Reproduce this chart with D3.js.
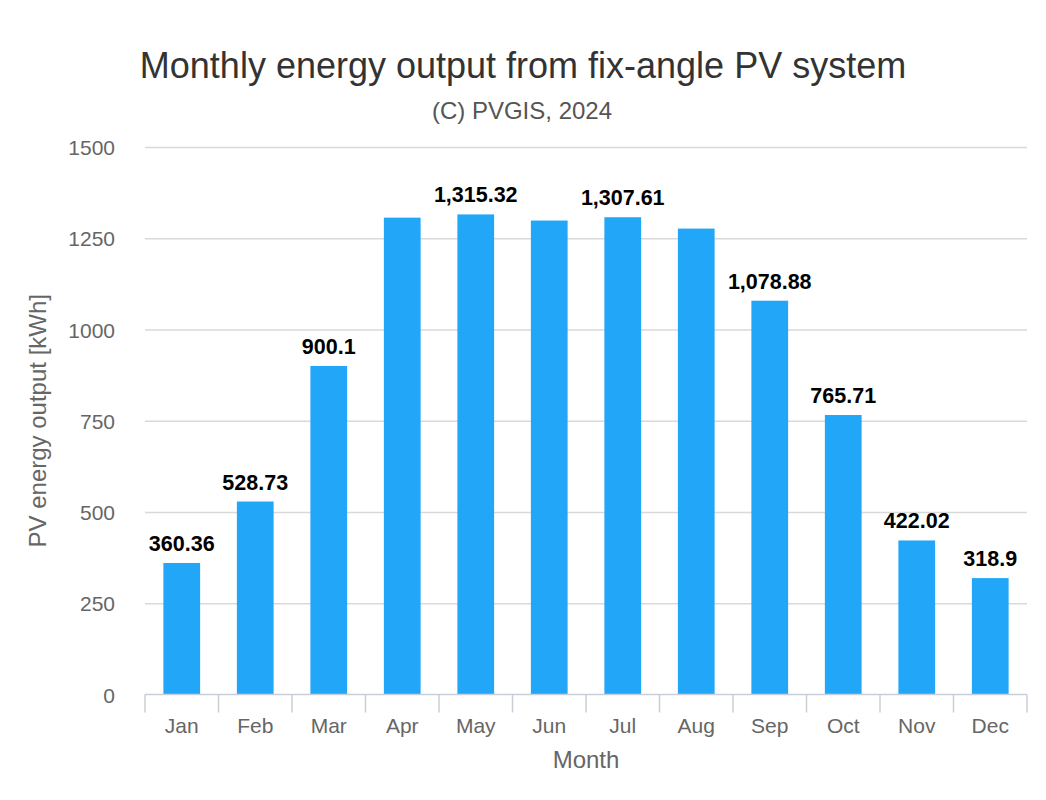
<!DOCTYPE html>
<html>
<head>
<meta charset="utf-8">
<script src="https://cdn.jsdelivr.net/npm/d3@7"></script>
<style>
  html, body { margin: 0; padding: 0; background: #fff; }
  svg { display: block; font-family: "Liberation Sans", Arial, sans-serif; }
</style>
</head>
<body>
<svg id="chart" width="1046" height="800"></svg>
<script>
const months = ["Jan","Feb","Mar","Apr","May","Jun","Jul","Aug","Sep","Oct","Nov","Dec"];
const energy = [360.36, 528.73, 900.1, 1306.5, 1315.32, 1298.5, 1307.61, 1276.5, 1078.88, 765.71, 422.02, 318.9];
const yTicks = [0, 250, 500, 750, 1000, 1250, 1500];
const titleText = "Monthly energy output from fix-angle PV system";
const subtitleText = "(C) PVGIS, 2024";
const xTitle = "Month";
const yTitle = "PV energy output [kWh]";

(function () {
const svg = d3.select("#chart");
const pL = 145, pR = 1027, pT = 147, pB = 694.5;

const x = d3.scaleBand().domain(months).range([pL, pR]).paddingInner(0.5).paddingOuter(0.25);
const y = d3.scaleLinear().domain([0, 1500]).range([pB, pT]);

// title
svg.append("text").attr("x", 523).attr("y", 78).attr("text-anchor", "middle")
  .attr("fill", "#333333").attr("font-size", 36).text(titleText);
svg.append("text").attr("x", 522).attr("y", 119).attr("text-anchor", "middle")
  .attr("fill", "#555555").attr("font-size", 24).text(subtitleText);

// grid
const yAxis = d3.axisLeft(y).tickValues(yTicks).tickSize(-(pR - pL)).tickPadding(30).tickFormat(d3.format("d"));
const gy = svg.append("g").attr("transform", `translate(${pL},0)`).call(yAxis);
gy.select(".domain").remove();
gy.selectAll(".tick line").attr("stroke", "#d9d9d9").attr("stroke-width", 1.5);
gy.selectAll(".tick text").attr("fill", "#666666").attr("font-size", 21)
  .attr("font-family", "Liberation Sans, Arial, sans-serif").attr("dy", "0.36em");
gy.selectAll(".tick").filter(d => d === 0).select("line").remove();

// bars
svg.append("g").selectAll("rect").data(energy).join("rect")
  .attr("x", (d, i) => x(months[i]))
  .attr("width", x.bandwidth())
  .attr("y", d => y(d))
  .attr("height", d => y(0) - y(d))
  .attr("fill", "#22a7f8");

// x axis
const step = x.step();
const gx = svg.append("g").attr("transform", `translate(0,${pB})`);
gx.append("line").attr("x1", pL).attr("x2", pR).attr("y1", 0).attr("y2", 0)
  .attr("stroke", "#c8ced8").attr("stroke-width", 1.5);
const bounds = months.map((m, i) => pL + i * step).concat([pR]);
gx.selectAll("line.tk").data(bounds).join("line").attr("class", "tk")
  .attr("x1", d => d).attr("x2", d => d).attr("y1", 0).attr("y2", 18)
  .attr("stroke", "#c8ced8").attr("stroke-width", 1.5);
gx.selectAll("text").data(months).join("text")
  .attr("x", d => x(d) + x.bandwidth() / 2).attr("y", 38).attr("text-anchor", "middle")
  .attr("fill", "#666666").attr("font-size", 21).text(d => d);

// axis titles
svg.append("text").attr("x", (pL + pR) / 2).attr("y", 768).attr("text-anchor", "middle")
  .attr("fill", "#666666").attr("font-size", 24).text(xTitle);
svg.append("text").attr("transform", `translate(46,${(pT + pB) / 2}) rotate(-90)`)
  .attr("text-anchor", "middle").attr("fill", "#666666").attr("font-size", 24).text(yTitle);

// data labels with overlap hiding (higher values win)
const fmt = d3.format(",");
const labels = svg.append("g").selectAll("text").data(energy).join("text")
  .attr("x", (d, i) => x(months[i]) + x.bandwidth() / 2)
  .attr("y", d => y(d) - 12)
  .attr("text-anchor", "middle").attr("font-weight", "bold").attr("font-size", 21.5)
  .attr("fill", "#000000").text(d => fmt(d));
const boxes = [];
labels.nodes().forEach((n, i) => { const b = n.getBBox(); boxes.push({i, v: energy[i], b}); });
const order = boxes.slice().sort((a, b) => b.v - a.v);
const kept = [];
order.forEach(o => {
  const hit = kept.some(k => !(o.b.x + o.b.width <= k.b.x || k.b.x + k.b.width <= o.b.x ||
                                o.b.y + o.b.height <= k.b.y || k.b.y + k.b.height <= o.b.y));
  if (hit) d3.select(labels.nodes()[o.i]).remove(); else kept.push(o);
});
})();
</script>
</body>
</html>
